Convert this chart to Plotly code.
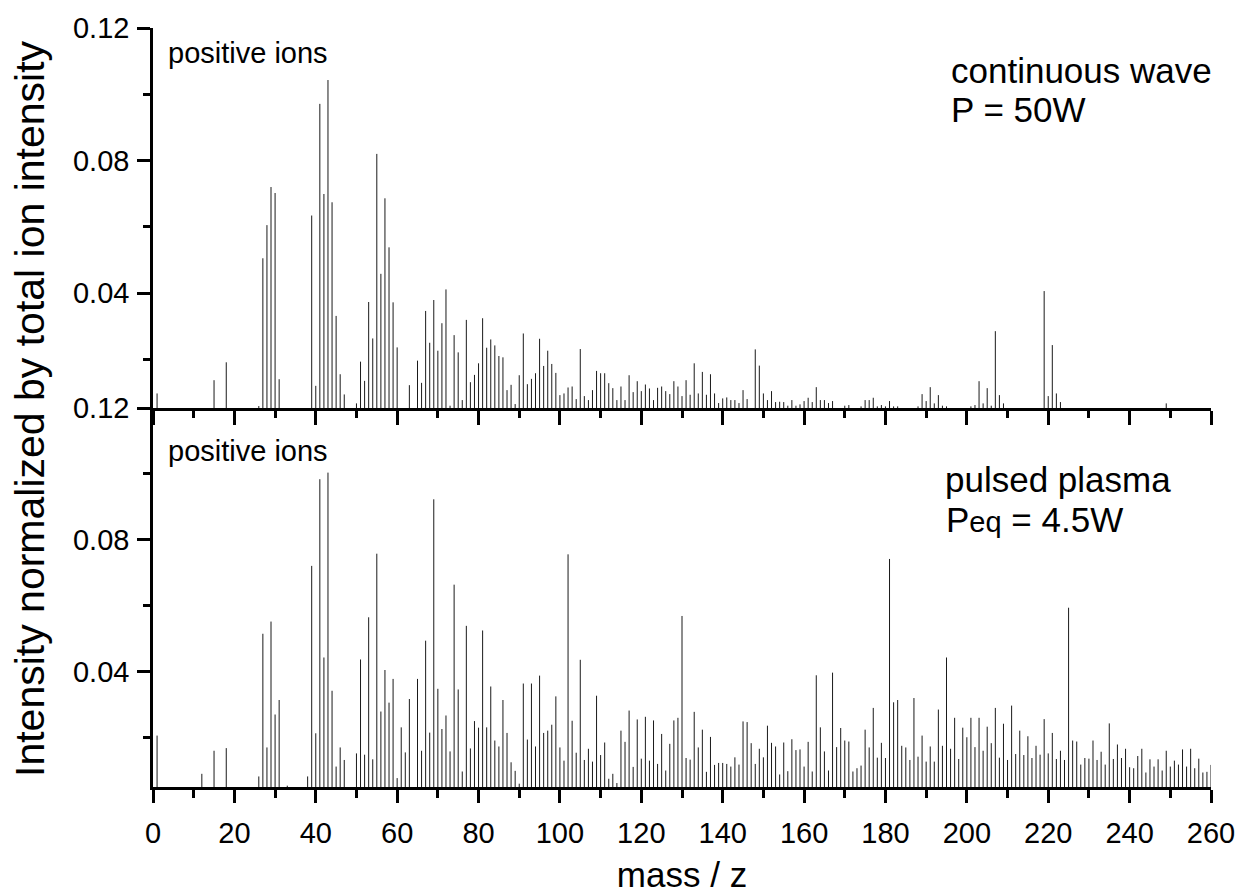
import plotly.graph_objects as go

# continuous wave (top panel)
cw_mass = [1, 15, 18, 26, 27, 28, 29, 30, 31, 39, 40, 41, 42, 43, 44, 45, 46, 47, 50, 51, 52, 53, 54, 55, 56, 57, 58, 59, 60,
           63, 65, 66, 67, 68, 69, 70, 71, 72, 73, 74, 75, 76, 77, 78, 79, 80, 81, 82, 83, 84, 85, 86, 87, 88, 89, 90,
           91, 92, 93, 94, 95, 96, 97, 98, 99, 100, 101, 102, 103, 104, 105, 106, 107, 108, 109, 110, 111, 112, 113,
           114, 115, 116, 117, 118, 119, 120, 121, 122, 123, 124, 125, 126, 127, 128, 129, 130, 131, 132, 133, 134,
           135, 136, 137, 138, 139, 140, 141, 142, 143, 144, 145, 146, 148, 149, 150, 151, 152, 153, 154, 155, 156,
           157, 158, 159, 160, 161, 162, 163, 164, 165, 166, 167, 170, 171, 174, 175, 176, 177, 178, 179, 180, 181,
           182, 183, 188, 189, 190, 191, 192, 193, 194, 195, 201, 202, 203, 204, 205, 206, 207, 208, 209, 219, 220,
           221, 222, 223, 249]
cw_int = [0.0097, 0.0137, 0.0191, 0.0059, 0.0505, 0.0605, 0.0720, 0.0702, 0.0140, 0.0634, 0.0120, 0.0971, 0.0699,
          0.1043, 0.0674, 0.0331, 0.0155, 0.0094, 0.0067, 0.0193, 0.0135, 0.0373, 0.0263, 0.0820, 0.0458, 0.0686,
          0.0538, 0.0372, 0.0236, 0.0122, 0.0196, 0.0129, 0.0346, 0.0250, 0.0379, 0.0226, 0.0309, 0.0411, 0.0060,
          0.0273, 0.0221, 0.0077, 0.0319, 0.0131, 0.0153, 0.0188, 0.0324, 0.0235, 0.0260, 0.0242, 0.0210, 0.0206,
          0.0107, 0.0123, 0.0065, 0.0152, 0.0278, 0.0125, 0.0141, 0.0158, 0.0262, 0.0180, 0.0226, 0.0186, 0.0159,
          0.0092, 0.0097, 0.0115, 0.0118, 0.0080, 0.0231, 0.0089, 0.0077, 0.0107, 0.0165, 0.0158, 0.0158, 0.0128,
          0.0113, 0.0077, 0.0118, 0.0077, 0.0152, 0.0101, 0.0134, 0.0104, 0.0124, 0.0112, 0.0077, 0.0114, 0.0118,
          0.0104, 0.0095, 0.0134, 0.0118, 0.0089, 0.0137, 0.0093, 0.0188, 0.0097, 0.0162, 0.0093, 0.0155, 0.0097,
          0.0068, 0.0082, 0.0085, 0.0077, 0.0077, 0.0068, 0.0107, 0.0080, 0.0230, 0.0181, 0.0097, 0.0077, 0.0104,
          0.0071, 0.0072, 0.0071, 0.0060, 0.0077, 0.0060, 0.0064, 0.0074, 0.0084, 0.0071, 0.0116, 0.0077, 0.0077,
          0.0068, 0.0074, 0.0060, 0.0062, 0.0058, 0.0077, 0.0077, 0.0084, 0.0058, 0.0062, 0.0058, 0.0074, 0.0058,
          0.0058, 0.0058, 0.0095, 0.0074, 0.0116, 0.0067, 0.0092, 0.0060, 0.0058, 0.0058, 0.0062, 0.0134, 0.0067,
          0.0113, 0.0060, 0.0285, 0.0092, 0.0067, 0.0406, 0.0089, 0.0243, 0.0097, 0.0071, 0.0067]

# pulsed plasma (bottom panel)
pp_mass = [1, 12, 15, 18, 26, 27, 28, 29, 30, 31, 33, 38, 39, 40, 41, 42, 43, 44, 45, 46, 47, 50, 51, 52, 53, 54, 55,
           56, 57, 58, 59, 60, 61, 62, 63, 65, 66, 67, 68, 69, 70, 71, 72, 73, 74, 75, 76, 77, 78, 79, 80, 81, 82, 83,
           84, 85, 86, 87, 88, 89, 90, 91, 92, 93, 94, 95, 96, 97, 98, 99, 100, 101, 102, 103, 104, 105, 106, 107,
           108, 109, 110, 111, 112, 113, 114, 115, 116, 117, 118, 119, 120, 121, 122, 123, 124, 125, 126, 127, 128,
           129, 130, 131, 132, 133, 134, 135, 136, 137, 138, 139, 140, 141, 142, 143, 144, 145, 146, 147, 148, 149,
           150, 151, 152, 153, 154, 155, 156, 157, 158, 159, 160, 161, 162, 163, 164, 165, 166, 167, 168, 169, 170,
           171, 172, 173, 174, 175, 176, 177, 178, 179, 180, 181, 182, 183, 184, 185, 186, 187, 188, 189, 190, 191,
           192, 193, 194, 195, 196, 197, 198, 199, 200, 201, 202, 203, 204, 205, 206, 207, 208, 209, 210, 211, 212,
           213, 214, 215, 216, 217, 218, 219, 220, 221, 222, 223, 224, 225, 226, 227, 228, 229, 230, 231, 232, 233,
           234, 235, 236, 237, 238, 239, 240, 241, 242, 243, 244, 245, 246, 247, 248, 249, 250, 251, 252, 253, 254,
           255, 256, 257, 258, 259, 260]
pp_int = [0.0206, 0.0090, 0.0160, 0.0168, 0.0082, 0.0515, 0.0170, 0.0552, 0.0270, 0.0314, 0.0054, 0.0082, 0.0721,
          0.0213, 0.0984, 0.0443, 0.1004, 0.0342, 0.0112, 0.0170, 0.0132, 0.0152, 0.0437, 0.0148, 0.0565, 0.0134,
          0.0758, 0.0279, 0.0405, 0.0306, 0.0378, 0.0077, 0.0231, 0.0155, 0.0317, 0.0378, 0.0160, 0.0494, 0.0215,
          0.0923, 0.0348, 0.0226, 0.0267, 0.0158, 0.0664, 0.0346, 0.0097, 0.0539, 0.0167, 0.0250, 0.0230, 0.0525,
          0.0231, 0.0355, 0.0191, 0.0173, 0.0314, 0.0214, 0.0125, 0.0099, 0.0060, 0.0364, 0.0194, 0.0364, 0.0173,
          0.0388, 0.0214, 0.0221, 0.0239, 0.0325, 0.0170, 0.0130, 0.0756, 0.0251, 0.0154, 0.0436, 0.0132, 0.0166,
          0.0127, 0.0327, 0.0147, 0.0185, 0.0075, 0.0090, 0.0062, 0.0221, 0.0187, 0.0282, 0.0111, 0.0255, 0.0136,
          0.0263, 0.0130, 0.0252, 0.0120, 0.0211, 0.0100, 0.0181, 0.0252, 0.0260, 0.0569, 0.0138, 0.0133, 0.0278,
          0.0170, 0.0224, 0.0096, 0.0202, 0.0117, 0.0123, 0.0123, 0.0120, 0.0112, 0.0140, 0.0118, 0.0249, 0.0247,
          0.0183, 0.0120, 0.0166, 0.0140, 0.0236, 0.0184, 0.0173, 0.0088, 0.0185, 0.0098, 0.0195, 0.0162, 0.0164,
          0.0112, 0.0187, 0.0097, 0.0389, 0.0231, 0.0158, 0.0100, 0.0397, 0.0171, 0.0229, 0.0191, 0.0188, 0.0097,
          0.0107, 0.0115, 0.0224, 0.0170, 0.0290, 0.0139, 0.0184, 0.0138, 0.0742, 0.0307, 0.0314, 0.0175, 0.0170,
          0.0132, 0.0320, 0.0142, 0.0206, 0.0127, 0.0173, 0.0127, 0.0285, 0.0175, 0.0443, 0.0166, 0.0260, 0.0135,
          0.0230, 0.0201, 0.0260, 0.0171, 0.0260, 0.0160, 0.0233, 0.0183, 0.0290, 0.0139, 0.0242, 0.0132, 0.0297,
          0.0150, 0.0221, 0.0147, 0.0204, 0.0138, 0.0175, 0.0148, 0.0256, 0.0152, 0.0214, 0.0135, 0.0160, 0.0132,
          0.0594, 0.0191, 0.0188, 0.0118, 0.0138, 0.0136, 0.0191, 0.0132, 0.0157, 0.0118, 0.0243, 0.0135, 0.0179,
          0.0138, 0.0166, 0.0110, 0.0107, 0.0144, 0.0166, 0.0094, 0.0134, 0.0112, 0.0134, 0.0100, 0.0160, 0.0112,
          0.0130, 0.0118, 0.0164, 0.0112, 0.0166, 0.0107, 0.0136, 0.0094, 0.0096, 0.0117]

x_ticks = list(range(0, 261, 20))
x_minor = list(range(10, 260, 20))
y_ticks = [0.04, 0.08, 0.12]
y_labels = ["0.04", "0.08", "0.12"]
y_minor = [0.02, 0.06, 0.10]

FONT = "Arial, 'Liberation Sans', sans-serif"


def sticks(masses, vals):
    xs, ys = [], []
    for m, v in zip(masses, vals):
        xs += [m, m, None]
        ys += [0, v, None]
    return xs, ys


fig = go.Figure()
x1, y1 = sticks(cw_mass, cw_int)
x2, y2 = sticks(pp_mass, pp_int)
fig.add_trace(go.Scatter(x=x1, y=y1, mode="lines", line=dict(color="#1a1a1a", width=1),
                         xaxis="x2", yaxis="y2", showlegend=False, hoverinfo="skip"))
fig.add_trace(go.Scatter(x=x2, y=y2, mode="lines", line=dict(color="#1a1a1a", width=1),
                         xaxis="x", yaxis="y", showlegend=False, hoverinfo="skip"))

split = 0.4993
axis_common = dict(showline=True, linecolor="black", linewidth=2.5, ticks="outside",
                   tickcolor="black", tickwidth=2.5, showgrid=False, zeroline=False,
                   automargin=False, ticklabeloverflow="allow")
TICKF = dict(size=29)

fig.update_layout(
    width=1237, height=894,
    margin=dict(l=153, r=26, t=28, b=107),
    paper_bgcolor="white", plot_bgcolor="white",
    font=dict(family=FONT, color="black", size=29),
    xaxis=dict(**axis_common, domain=[0, 1], anchor="y", range=[0, 260],
               tickvals=x_ticks, ticklen=13, tickfont=TICKF, ticklabelstandoff=5,
               minor=dict(tickvals=x_minor, ticklen=8, tickwidth=2.5,
                          ticks="outside", tickcolor="black"),
               title=dict(text="mass / z", font=dict(size=35), standoff=32)),
    xaxis2=dict(**axis_common, domain=[0, 1], anchor="y2", range=[0, 260], matches="x",
                tickvals=x_ticks, ticklen=14, showticklabels=False,
                minor=dict(tickvals=x_minor, ticklen=7, tickwidth=2.5,
                           ticks="outside", tickcolor="black")),
    yaxis=dict(**axis_common, domain=[0, split], anchor="x", range=[0.005, 0.12],
               tickvals=y_ticks, ticktext=y_labels, ticklen=13, tickfont=TICKF,
               ticklabelstandoff=2,
               minor=dict(tickvals=y_minor, ticklen=7, tickwidth=2.5,
                          ticks="outside", tickcolor="black")),
    yaxis2=dict(**axis_common, domain=[split, 1], anchor="x2", range=[0.0053, 0.12],
                tickvals=y_ticks, ticktext=y_labels, ticklen=13, tickfont=TICKF,
                ticklabelstandoff=2,
                minor=dict(tickvals=y_minor, ticklen=7, tickwidth=2.5,
                           ticks="outside", tickcolor="black")),
)

ann = [
    dict(text="positive ions", x=0.0123, y=0.967, size=29),
    dict(text="continuous wave", x=0.7524, y=0.944, size=35),
    dict(text="P = 50W", x=0.7524, y=0.893, size=35),
    dict(text="positive ions", x=0.0123, y=0.4427, size=29),
    dict(text="pulsed plasma", x=0.7467, y=0.4055, size=35),
    dict(text="P<span style='font-size:29px'>eq</span> = 4.5W", x=0.7476, y=0.3518, size=35),
]
for a in ann:
    fig.add_annotation(text=a["text"], x=a["x"], y=a["y"], xref="paper", yref="paper",
                       xanchor="left", yanchor="middle", showarrow=False,
                       font=dict(family=FONT, size=a["size"], color="black"))

fig.add_annotation(text="Intensity normalized by total ion intensity", x=-0.1163, y=0.4993,
                   xref="paper", yref="paper", textangle=-90, showarrow=False,
                   xanchor="center", yanchor="middle",
                   font=dict(family=FONT, size=41, color="black"))

fig.write_html("out.html", config={"displayModeBar": False},
               post_script="document.body.style.margin='0px';document.body.style.overflow='hidden';")
